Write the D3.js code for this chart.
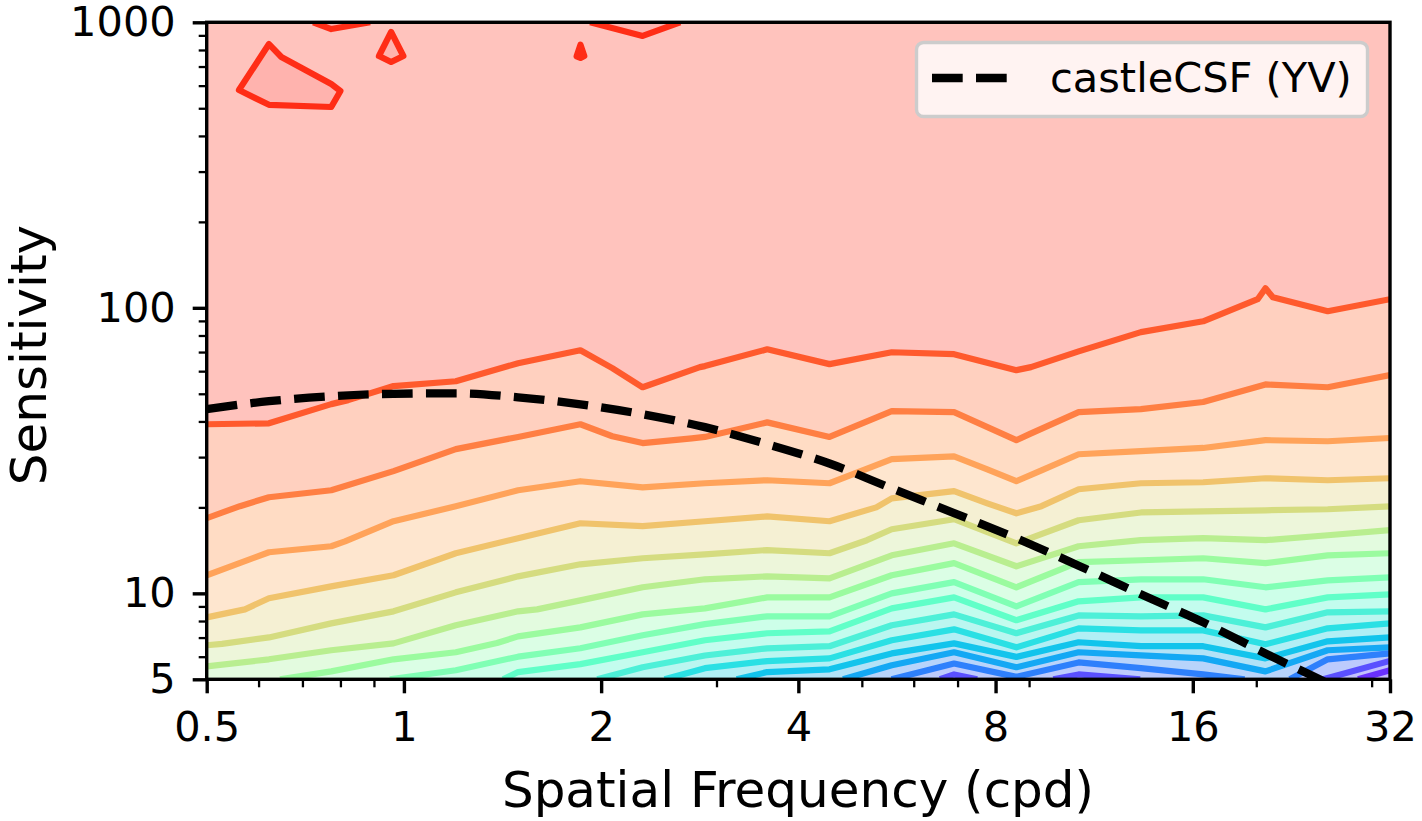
<!DOCTYPE html>
<html>
<head>
<meta charset="utf-8">
<script src="https://cdn.jsdelivr.net/npm/d3@7"></script>
<style>
html,body{margin:0;padding:0;background:#fff}
svg{display:block}
text{font-family:"DejaVu Sans",sans-serif;fill:#000}
</style>
</head>
<body>
<svg id="chart" width="1422" height="821"></svg>
<script>
// ---- axis ticks ----
const xMajor = [0.5, 1, 2, 4, 8, 16, 32];
const xMinor = [0.6, 0.7, 0.8, 0.9, 3, 5, 6, 7, 9, 20, 30];
const yMajor = [5, 10, 100, 1000];
const yMinor = [6, 7, 8, 9, 20, 30, 40, 50, 60, 70, 80, 90, 200, 300, 400, 500, 600, 700, 800, 900];

// ---- contour lines: [frequency (cpd), sensitivity] ----
const level1 = [[0.5,39.1],[0.6223,39.4],[0.7746,46.0],[0.822,47.5],[0.9642,53.2],[1.2001,55.3],[1.4938,64.0],[1.8593,71.0],[2.08,61.5],[2.3143,52.7],[2.83,62.0],[2.8806,62.5],[3.5855,71.6],[4.4628,63.5],[5.5548,69.9],[6.914,68.8],[8.6058,60.5],[9.06,62.0],[10.712,70.4],[13.333,82.2],[16.595,89.7],[20.1,107.2],[20.656,117.1],[21.2,108.9],[25.71,97.3],[32,107.2]];
const level2 = [[0.5,18.33],[0.562,20.2],[0.6223,21.7],[0.7746,22.96],[0.9642,26.8],[1.2001,32.0],[1.4938,35.3],[1.8593,39.1],[2.08,35.5],[2.3143,33.6],[2.75,34.9],[2.8806,35.3],[3.5855,39.7],[4.4628,35.3],[5.5548,43.5],[6.914,43.1],[8.6058,34.4],[9.03,36.2],[10.712,43.1],[13.333,44.2],[16.595,46.8],[20.656,53.9],[25.71,52.7],[32,58.1]];
const level3 = [[0.5,11.57],[0.6223,13.93],[0.7746,14.62],[0.813,15.2],[0.9642,17.89],[1.2001,20.18],[1.4938,22.96],[1.8593,24.7],[2.3143,23.5],[2.8806,24.3],[3.5855,24.9],[4.4628,24.3],[5.5548,29.5],[6.914,30.2],[7.77,27.2],[8.6058,24.7],[9.42,27.0],[10.712,30.7],[13.333,31.5],[16.595,32.3],[20.656,34.4],[25.71,34.1],[32,35.0]];
const level4 = [[0.5,8.24],[0.572,8.79],[0.6223,9.61],[0.7746,10.58],[0.9642,11.57],[1.2001,13.82],[1.4938,15.6],[1.8593,17.6],[2.3143,17.2],[2.8806,17.89],[3.5855,18.6],[4.4628,17.89],[5.26,20.0],[5.5548,21.5],[6.914,22.8],[7.77,20.67],[8.6058,19.07],[9.4,20.2],[10.712,23.15],[13.333,24.3],[16.595,24.5],[20.656,25.3],[25.71,24.9],[32,25.3]];
const level5 = [[0.5,6.58],[0.5277,6.65],[0.6223,7.01],[0.7746,7.85],[0.9642,8.65],[1.2001,10.08],[1.4938,11.47],[1.8593,12.64],[2.3143,13.27],[2.8806,13.7],[3.5855,14.18],[4.4628,13.82],[5.09,15.35],[5.5548,16.77],[6.914,18.18],[8.6058,14.97],[10.712,18.03],[13.333,19.2],[16.595,19.38],[20.656,19.54],[25.71,19.7],[32,20.18]];
const level6 = [[0.5,5.55],[0.6223,5.875],[0.7746,6.32],[0.9642,6.68],[1.2001,7.73],[1.4938,8.65],[1.597,8.79],[1.8593,9.45],[2.3143,10.5],[2.8806,11.2],[3.5855,11.47],[4.4628,11.29],[5.5548,13.59],[6.914,14.97],[8.6058,12.44],[10.712,14.62],[13.333,15.35],[16.595,15.6],[20.656,15.35],[25.71,15.98],[32,16.64]];
const level7 = [[0.647,5],[0.7746,5.33],[0.9642,5.875],[1.2001,6.22],[1.387,6.7],[1.4938,7.07],[1.8593,7.6],[2.3143,8.44],[2.8806,8.86],[3.5855,9.68],[4.4628,9.68],[5.5548,11.57],[6.914,12.76],[8.6058,10.5],[10.712,12.86],[13.333,13.06],[16.595,13.27],[20.656,12.76],[25.71,13.59],[32,13.82]];
const level8 = [[0.952,5],[1.2001,5.38],[1.4938,6.0],[1.8593,6.42],[2.3143,7.13],[2.8806,7.8],[3.5855,8.31],[4.4628,8.31],[5.5548,10.0],[6.914,10.95],[8.6058,9.0],[10.712,10.95],[13.333,11.2],[16.595,11.2],[20.656,10.5],[25.71,11.1],[32,11.38]];
const level9 = [[1.417,5],[1.4938,5.3],[1.8593,5.65],[2.3143,6.22],[2.8806,6.85],[3.5855,7.25],[4.4628,7.36],[5.5548,8.86],[6.914,9.68],[8.6058,8.05],[10.712,9.38],[13.333,9.68],[16.595,9.68],[20.656,8.79],[25.71,9.68],[32,9.92]];
const level10 = [[1.973,5],[2.3143,5.51],[2.8806,6.06],[3.5855,6.42],[4.4628,6.53],[5.5548,7.73],[6.914,8.44],[8.6058,7.25],[10.712,8.37],[13.333,8.31],[16.595,8.37],[20.656,7.6],[25.71,8.58],[32,8.65]];
const level11 = [[2.5,5],[2.8806,5.47],[3.5855,5.79],[4.4628,5.92],[5.5548,6.85],[6.914,7.48],[8.6058,6.47],[10.712,7.54],[13.333,7.42],[16.595,7.42],[20.656,6.63],[25.71,7.54],[32,7.85]];
const level12 = [[3.22,5],[3.5855,5.3],[4.4628,5.42],[5.5548,6.16],[6.914,6.68],[8.6058,5.99],[10.712,6.74],[13.333,6.53],[16.595,6.53],[20.656,5.92],[25.71,6.79],[32,7.01]];
const level13 = [[4.68,5],[5.5548,5.6],[6.914,6.22],[8.6058,5.51],[10.712,6.22],[13.333,6.06],[16.595,5.92],[20.656,5.33],[25.71,6.32],[32,6.47]];
const level14a = [[5.55,5],[6.914,5.68],[8.6058,5.1],[10.712,5.73],[13.333,5.47],[16.595,5.2],[19.2,5]];
const level14b = [[22.5,5],[25.71,5.875],[32,6.16]];
const level15a = [[6.58,5],[6.914,5.2],[7.5,5]];
const level15b = [[9.8,5],[10.712,5.2],[13.3,5]];
const level15c = [[25.3,5],[32,5.8]];
const level16 = [[28.6,5],[32,5.38]];

// closed islands and arcs at the high-sensitivity end
const island1 = [[0.6223,839],[0.65,756],[0.7746,608],[0.8,575],[0.7746,505],[0.6223,514],[0.56,579]];
const island2 = [[0.956,925],[0.998,762],[0.956,726],[0.916,762]];
const island3 = [[1.86,835],[1.885,762],[1.86,750],[1.835,760]];
const arc1 = [[0.727,1000],[0.7746,947],[0.888,1000]];
const arc2 = [[1.924,1000],[2.3143,896],[2.64,1000]];

// castleCSF (YV) curve
const castleFreq = [0.5,0.6223,0.7746,0.9642,1.2001,1.4938,1.8593,2.3143,2.8806,3.5855,4.4628,5.5548,6.914,8.6058,10.712,13.333,16.595,20.656,25.71,32];
const castleSens = [44.2,47.1,49.0,50.0,50.2,48.6,45.9,42.4,38.2,33.3,28.5,23.3,19.1,15.6,12.5,9.92,7.92,6.16,4.84,3.75];

// ---- styles ----
const topBand = "#ffc3bd";
const islandFill = "#ffb3ae";
const islandLine = "#ff2d16";
const bands = [
 [[level1],"#ff5a2d","#ffd0bf"],
 [[level2],"#ff7f43","#ffdcc4"],
 [[level3],"#ffa35a","#fee6cf"],
 [[level4],"#f0c36c","#f5f0d3"],
 [[level5],"#d5dc80","#edf6da"],
 [[level6],"#b9ee90","#e3fbdf"],
 [[level7],"#9bfb9f","#dbfee5"],
 [[level8],"#80ffb4","#cdffe9"],
 [[level9],"#60ffc8","#c3fcee"],
 [[level10],"#4df0d8","#baf6f0"],
 [[level11],"#2ae0e4","#b1eff5"],
 [[level12],"#12c4ec","#b2e2f7"],
 [[level13],"#14a8f4","#b8d4fb"],
 [[level14a,level14b],"#2e80fc","#bdcbfd"],
 [[level15a,level15b,level15c],"#5a50ff","#c2c0ff"],
 [[level16],"#6a30ff","#c8b8ff"]
];

const L = 206.7, R = 1390, T = 22.3, B = 679.3;
const LW = 6.2;
const svg = d3.select("#chart");
const x = d3.scaleLog().base(2).domain([0.5, 32]).range([L, R]);
const y = d3.scaleLog().domain([5, 1000]).range([B, T]);
const lineGen = d3.line().x(d => x(d[0])).y(d => y(d[1]));

svg.append("clipPath").attr("id","plot").append("rect")
  .attr("x",L).attr("y",T).attr("width",R-L).attr("height",B-T);
const plot = svg.append("g").attr("clip-path","url(#plot)");
plot.append("rect").attr("x",L).attr("y",T).attr("width",R-L).attr("height",B-T).attr("fill",topBand);

// filled bands, top to bottom: each one paints everything under its contour
bands.forEach(([segs,, fill]) => {
  segs.forEach(seg => {
    const poly = [[seg[0][0],5]].concat(seg, [[seg[seg.length-1][0],5]]);
    plot.append("path").attr("d",lineGen(poly)+"Z").attr("fill",fill).attr("stroke",fill).attr("stroke-width",0.5);
  });
});
// islands
[arc1,arc2,island1,island2].forEach(s => {
  plot.append("path").attr("d",lineGen(s)+"Z").attr("fill",islandFill);
});
[island1,island2,island3].forEach(s => {
  plot.append("path").attr("d",lineGen(s)+"Z").attr("fill",s===island3?islandLine:"none")
    .attr("stroke",islandLine).attr("stroke-width",LW).attr("stroke-linejoin","round");
});
[arc1,arc2].forEach(s => {
  plot.append("path").attr("d",lineGen(s)).attr("fill","none")
    .attr("stroke",islandLine).attr("stroke-width",LW).attr("stroke-linejoin","round");
});
// contour lines
bands.forEach(([segs,stroke]) => {
  segs.forEach(seg => {
    plot.append("path").attr("d",lineGen(seg)).attr("fill","none")
      .attr("stroke",stroke).attr("stroke-width",LW).attr("stroke-linejoin","round");
  });
});
// model curve
const castle = castleFreq.map((f,i)=>[f,castleSens[i]]);
plot.append("path").attr("d",d3.line().x(d=>x(d[0])).y(d=>y(d[1])).curve(d3.curveMonotoneX)(castle))
  .attr("fill","none").attr("stroke","#000").attr("stroke-width",8.3).attr("stroke-dasharray","30.7 13.3");

// axes
function styleAxis(g, w){
  g.select(".domain").remove();
  g.selectAll("line").attr("stroke","#000").attr("stroke-width",w);
  g.selectAll("text").attr("font-size",41.5).attr("font-family",'"DejaVu Sans"').attr("fill","#000");
}
const gx = svg.append("g").attr("transform",`translate(0,${B})`);
gx.append("g").call(d3.axisBottom(x).tickValues(xMajor).tickFormat(d=>String(d)).tickSize(14).tickPadding(18)).call(styleAxis,3.4);
gx.append("g").call(d3.axisBottom(x).tickValues(xMinor).tickFormat("").tickSize(8)).call(styleAxis,2.3);
const gy = svg.append("g").attr("transform",`translate(${L},0)`);
gy.append("g").call(d3.axisLeft(y).tickValues(yMajor).tickFormat(d=>String(d)).tickSize(14).tickPadding(17)).call(styleAxis,3.4);
gy.append("g").call(d3.axisLeft(y).tickValues(yMinor).tickFormat("").tickSize(8)).call(styleAxis,2.3);
// spines
svg.append("rect").attr("x",L).attr("y",T).attr("width",R-L).attr("height",B-T)
  .attr("fill","none").attr("stroke","#000").attr("stroke-width",3.4);

// legend
svg.append("rect").attr("x",916.5).attr("y",42.5).attr("width",451).attr("height",74).attr("rx",7)
  .attr("fill","#fff").attr("fill-opacity",0.8).attr("stroke","#ccc").attr("stroke-width",3.4);
svg.append("line").attr("x1",932).attr("x2",1007).attr("y1",78).attr("y2",78)
  .attr("stroke","#000").attr("stroke-width",8.3).attr("stroke-dasharray","30.7 13.3");
svg.append("text").attr("x",1050).attr("y",92).attr("font-size",41.5).text("castleCSF (YV)");

// axis titles
svg.append("text").attr("x",798).attr("y",807).attr("text-anchor","middle").attr("font-size",50).text("Spatial Frequency (cpd)");
svg.append("text").attr("transform",`translate(46,355) rotate(-90)`).attr("text-anchor","middle").attr("font-size",50).text("Sensitivity");
</script>
</body>
</html>
